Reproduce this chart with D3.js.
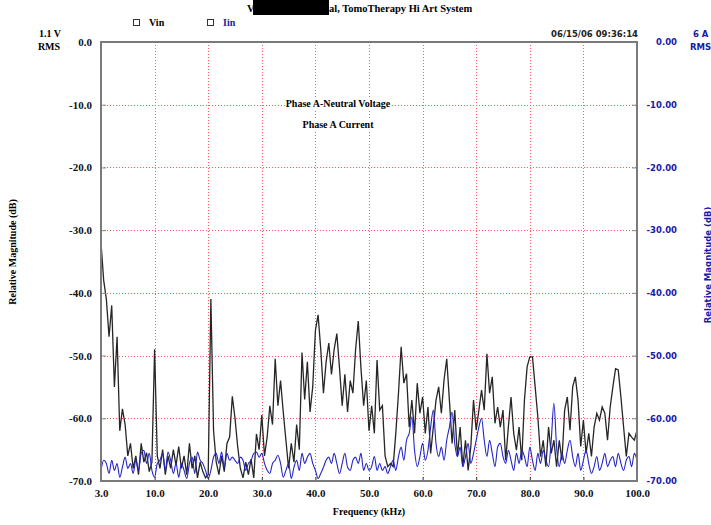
<!DOCTYPE html>
<html lang="en">
<head>
<meta charset="utf-8">
<title>Spectrum</title>
<script src="https://cdn.jsdelivr.net/npm/d3@7"></script>
<style>
body { margin: 0; background: #fff; }
svg { display: block; }
text { font-family: "Liberation Serif", serif; font-weight: bold; }
text.sans { font-family: "DejaVu Sans", sans-serif; }
</style>
</head>
<body>
<script>

// chart values
var xTickValues = [0, 10, 20, 30, 40, 50, 60, 70, 80, 90, 100];
var xTickLabels = ["3.0", "10.0", "20.0", "30.0", "40.0", "50.0", "60.0", "70.0", "80.0", "90.0", "100.0"];
var yTickValues = [0, -10, -20, -30, -40, -50, -60, -70];
var sampleStep = 0.5;   // spacing of samples along the frequency axis

// Vin, relative magnitude (dB)
var vin = [
  -32, -38, -41, -47, -42, -55, -47, -62, -58.5, -61,
  -66, -64, -68, -66, -69, -64, -67, -65.5, -68.5, -67,
  -49, -66, -68, -65, -69, -66, -68, -65, -67.5, -64.5,
  -68, -66, -69, -64, -68, -66, -69.5, -67, -68.5, -69.5,
  -69, -41, -62, -67, -69, -66, -68.5, -64, -63, -56.5,
  -60, -64.5, -68, -69.5, -67, -69, -66.5, -69.5, -62.5, -65,
  -59.5, -66, -63, -58, -61, -50.5, -58, -54, -59, -63.5,
  -68, -64, -67, -61, -65, -49.5, -57, -51, -59, -55,
  -46, -43.5, -49, -56, -51, -48, -53, -49, -46.5, -52,
  -58, -53, -59, -54, -56, -49, -44.5, -52, -58, -54,
  -62,
  -58, -62.4, -50.7, -58.7, -58, -66, -67.7, -67.2, -67.7, -62.4,
  -56, -48.6, -54.4, -52.9, -61.4, -57.1, -62.4, -54.4, -59.2, -56.6,
  -62.4, -58.2, -65.6, -61.4, -57.1, -55, -59.2, -53.9, -50.5, -57.1,
  -64, -58.7, -66.1, -61.4, -67.7, -63.5, -68.3, -64.5, -57.1, -61.9,
  -58.7, -55.5, -58.7, -49.7, -56, -53.4, -60.8, -58.2, -61.4, -58.7,
  -66.7, -61.4, -56.6, -62.4, -65.1, -61.4, -66.7, -57.1, -51.8, -50.2,
  -50.2, -55, -59.8, -66.1, -63.5, -67.7, -61.4, -65.6, -63.5, -67.7,
  -63.5, -66.7, -58.7, -56.6, -61.9, -55, -53.4, -57.1, -64.5, -60.3,
  -65.6, -62.4, -66.1, -61.4, -59.2, -60.3, -58.2, -59.2, -63.5, -58.2,
  -55, -52.1, -52.3, -56.6, -61.4, -66.1, -62.4, -63, -63.5, -61.9
];

// Iin, relative magnitude (dB)
var iin = [
  -68.3, -66.7, -67.2, -68.8, -66.7, -68.3, -67.2, -69.4, -67.8, -66.2,
  -68.0, -67.2, -68.8, -66.7, -68.3, -65.6, -65.1, -67.2, -65.6, -68.3,
  -69.4, -67.2, -66.7, -65.6, -68.3, -65.4, -66.7, -68.8, -67.2, -69.4,
  -67.2, -68.3, -69.6, -67.2, -66.2, -68.8, -65.4, -66.7, -67.2, -68.3,
  -69.6, -68.3, -66.2, -65.6, -67.2, -65.4, -67.8, -65.6, -66.7, -66.2,
  -66.7, -67.2, -66.2, -66.7, -68.3, -67.2, -66.7, -65.6, -65.4, -66.2,
  -65.6, -67.2, -68.3, -68.8, -67.2, -66.7, -65.9, -67.2, -69.4, -68.3,
  -67.2, -69.6, -67.8, -66.7, -68.3, -65.6, -67.2, -66.2, -65.6, -67.2,
  -68.3, -69.6, -68.8, -67.8, -66.7, -66.2, -67.2, -65.6, -67.2, -68.8,
  -67.2, -65.6, -67.8, -68.3, -66.7, -66.2, -67.2, -65.6, -68.3, -67.2,
  -68.3,
  -67.7, -66.1, -68.3, -67.2, -68.3, -67.7, -68.8, -67.7, -66.7, -68.3,
  -66.1, -64.6, -66.7, -63.5, -62.4, -59.8, -65.1, -67.7, -66.1, -64.0,
  -66.7, -65.1, -61.4, -58.7, -64.0, -66.1, -64.6, -66.7, -63.5, -61.4,
  -59.0, -64.0, -66.1, -64.6, -67.7, -66.1, -64.0, -67.2, -65.6, -63.5,
  -61.4, -60.0, -63.5, -66.1, -63.5, -65.6, -67.7, -64.6, -64.0, -66.1,
  -67.2, -65.1, -66.7, -68.3, -65.6, -67.2, -65.1, -66.1, -67.7, -64.6,
  -66.7, -68.3, -65.6, -67.2, -65.1, -66.7, -67.7, -63.5, -57.6, -64.6,
  -67.7, -65.6, -67.2, -65.1, -63.5, -66.1, -67.7, -65.6, -68.3, -66.7,
  -65.1, -67.2, -68.8, -67.7, -66.1, -68.3, -67.2, -65.6, -67.7, -66.7,
  -66.1, -67.7, -65.6, -67.2, -68.3, -66.7, -66.1, -67.7, -65.6, -66.7
];

var w = 711;
var h = 525;

var svg = d3.select("body")
    .append("svg")
    .attr("width", w)
    .attr("height", h);

var x = d3.scaleLinear().domain([0, 100]).range([101, 637]);
var y = d3.scaleLinear().domain([0, -70]).range([42, 481]);

//Clip to plot box
svg.append("clipPath")
    .attr("id", "plot")
    .append("rect")
    .attr("x", 101).attr("y", 42)
    .attr("width", 536).attr("height", 439);

//Grid
var grid = svg.append("g")
    .attr("stroke", "#ff5a5a")
    .attr("stroke-width", 1)
    .attr("stroke-dasharray", "1,2");

grid.selectAll("line.v")
    .data(xTickValues.slice(1, -1))
    .enter()
    .append("line")
    .attr("x1", function(d) { return Math.round(x(d)) + 0.5; })
    .attr("x2", function(d) { return Math.round(x(d)) + 0.5; })
    .attr("y1", y(0))
    .attr("y2", y(-70));

grid.selectAll("line.h")
    .data(yTickValues.slice(1, -1))
    .enter()
    .append("line")
    .attr("y1", function(d) { return Math.round(y(d)) + 0.5; })
    .attr("y2", function(d) { return Math.round(y(d)) + 0.5; })
    .attr("x1", x(0))
    .attr("x2", x(100));

//Center labels (white background hides the grid)
var notes = ["Phase A-Neutral Voltage", "Phase A Current"];
var noteY = [107, 128];
notes.forEach(function(t, i) {
    var g = svg.append("g");
    var txt = g.append("text")
        .attr("x", 338)
        .attr("y", noteY[i])
        .attr("text-anchor", "middle")
        .attr("font-size", "10px")
        .attr("fill", "#000")
        .text(t);
    var bb = txt.node().getBBox();
    g.insert("rect", "text")
        .attr("x", bb.x - 1).attr("y", bb.y)
        .attr("width", bb.width + 2).attr("height", bb.height)
        .attr("fill", "#fff");
});

//Series
var line = d3.line()
    .x(function(d, i) { return x(i * sampleStep); })
    .y(function(d) { return y(d); });

var plot = svg.append("g").attr("clip-path", "url(#plot)");

plot.append("path")
    .datum(vin)
    .attr("fill", "none")
    .attr("stroke", "#262626")
    .attr("stroke-width", 1.3)
    .attr("d", line);

plot.append("path")
    .datum(iin)
    .attr("fill", "none")
    .attr("stroke", "#2424c8")
    .attr("stroke-width", 1.1)
    .attr("d", line.curve(d3.curveMonotoneX));

//Axes
var left = svg.append("g")
    .attr("transform", "translate(101,0)")
    .call(d3.axisLeft(y).tickValues(yTickValues).tickSize(-5).tickPadding(9)
        .tickFormat(function(d) { return d.toFixed(1); }));
left.select(".domain").remove();
left.selectAll(".tick line").attr("stroke", "#888");
left.selectAll("text").attr("font-size", "11px").attr("fill", "#111");

var right = svg.append("g")
    .attr("transform", "translate(637,0)")
    .call(d3.axisRight(y).tickValues(yTickValues).tickSize(-5).tickPadding(9)
        .tickFormat(function(d) { return d.toFixed(2); }));
right.select(".domain").remove();
right.selectAll(".tick line").attr("stroke", "#888");
right.selectAll("text")
    .attr("class", "sans")
    .attr("text-anchor", "end")
    .attr("x", 40)
    .attr("font-size", "8.5px")
    .attr("fill", "#1a1aa8");

var bottom = svg.append("g")
    .attr("transform", "translate(0,481)")
    .call(d3.axisBottom(x).tickValues(xTickValues).tickSize(-4).tickPadding(8)
        .tickFormat(function(d, i) { return xTickLabels[i]; }));
bottom.select(".domain").remove();
bottom.selectAll(".tick line").attr("stroke", "#333");
bottom.selectAll("text").attr("font-size", "11px").attr("fill", "#111");

//Frame
svg.append("rect")
    .attr("x", 101).attr("y", 42)
    .attr("width", 536).attr("height", 439)
    .attr("fill", "none")
    .attr("stroke", "#7a7a7a")
    .attr("stroke-width", 2);

//Axis titles
svg.append("text")
    .attr("transform", "translate(14,252) rotate(-90)")
    .attr("text-anchor", "middle")
    .attr("dominant-baseline", "middle")
    .attr("font-size", "10px")
    .text("Relative Magnitude (dB)");

svg.append("text")
    .attr("class", "sans")
    .attr("transform", "translate(708,265) rotate(-90)")
    .attr("text-anchor", "middle")
    .attr("dominant-baseline", "middle")
    .attr("font-size", "8.5px")
    .attr("fill", "#1a1aa8")
    .text("Relative Magnitude (dB)");

svg.append("text")
    .attr("x", 369).attr("y", 515)
    .attr("text-anchor", "middle")
    .attr("font-size", "10px")
    .text("Frequency (kHz)");

//Units
svg.append("text").attr("x", 50).attr("y", 37).attr("text-anchor", "middle")
    .attr("font-size", "10px").text("1.1 V");
svg.append("text").attr("x", 49).attr("y", 50).attr("text-anchor", "middle")
    .attr("font-size", "10px").text("RMS");
svg.append("text").attr("class", "sans").attr("x", 693).attr("y", 37)
    .attr("font-size", "8.5px").attr("fill", "#1a1aa8").text("6 A");
svg.append("text").attr("class", "sans").attr("x", 690).attr("y", 50)
    .attr("font-size", "8.5px").attr("fill", "#1a1aa8").text("RMS");

//Title with redaction
svg.append("text").attr("x", 247).attr("y", 12)
    .attr("font-size", "10.5px").text("V");
svg.append("rect")
    .attr("x", 253).attr("y", 0)
    .attr("width", 76).attr("height", 15)
    .attr("fill", "#000");
svg.append("text").attr("x", 329).attr("y", 12)
    .attr("font-size", "10.5px").text("al, TomoTherapy Hi Art System");

//Date
svg.append("text").attr("class", "sans").attr("x", 638).attr("y", 37)
    .attr("text-anchor", "end")
    .attr("font-size", "8.5px")
    .attr("fill", "#222")
    .text("06/15/06 09:36:14");

//Legend
var legendNames = ["Vin", "Iin"];
var legendColors = ["#000", "#1a1aa8"];
var legendX = [133, 207];
legendNames.forEach(function(n, i) {
    svg.append("rect")
        .attr("x", legendX[i] + 0.5).attr("y", 19.5)
        .attr("width", 6).attr("height", 6)
        .attr("fill", "#fff")
        .attr("stroke", "#333")
        .attr("stroke-width", 1);
    svg.append("text")
        .attr("x", legendX[i] + 16).attr("y", 26)
        .attr("font-size", "10px")
        .attr("fill", legendColors[i])
        .text(n);
});

</script>
</body>
</html>
